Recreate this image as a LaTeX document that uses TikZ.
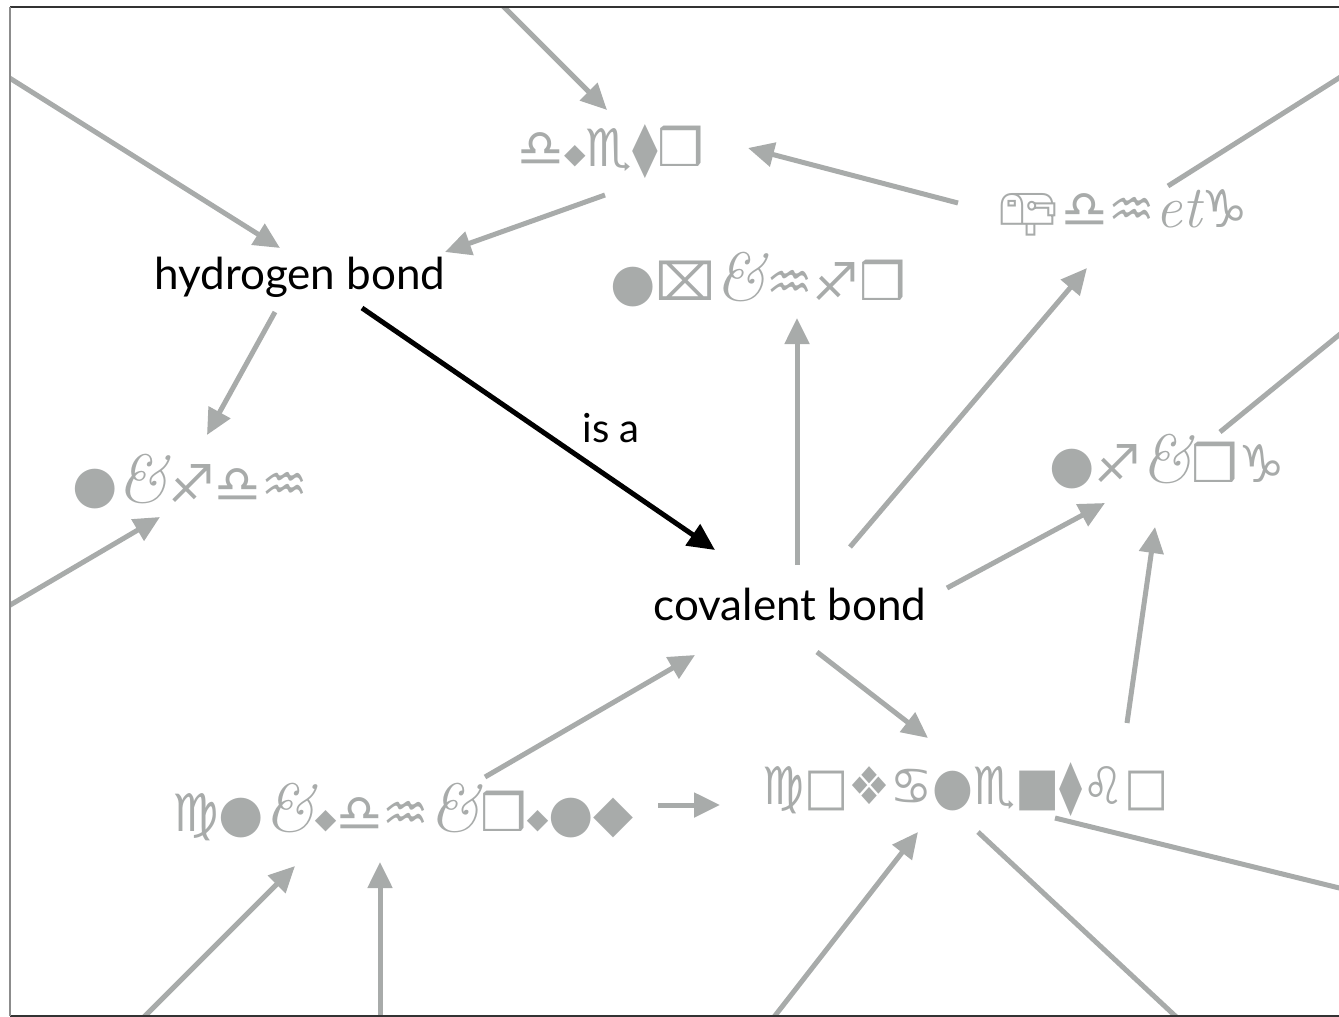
\documentclass[tikz,border=0pt]{standalone}
\usepackage{fontspec}
\setmainfont{Lato}
\newfontfamily\symfont{DejaVu Sans}
\newfontfamily\mailfont{Noto Emoji}
\newfontfamily\ornfont{Latin Modern Roman}
\usetikzlibrary{arrows.meta,positioning}

\definecolor{linkgrey}{RGB}{168,171,170}
\newcommand{\ornamp}{{\ornfont\itshape\scalebox{1.3}{\&}}}
\newcommand{\ornet}{{\ornfont\itshape\scalebox{1.15}{et}}}
\newcommand{\smalldia}{{\fontsize{28}{28}\selectfont\raisebox{0.12em}{◆}}}
\newcommand{\mailbox}{{\mailfont 📪}}

\begin{document}
\begin{tikzpicture}[
    x=1pt,y=-1pt,
    concept/.style={inner sep=0pt,text=black,font=\fontsize{44}{44}\selectfont},
    glyphs/.style={inner sep=0pt,text=linkgrey,font=\symfont\fontsize{52}{52}\selectfont},
    link/.style={draw=linkgrey,line width=5pt,-{Triangle[length=26pt,width=24pt]}},
    isalink/.style={draw=black,line width=5pt,-{Triangle[length=27pt,width=25pt]}}
]
\useasboundingbox (0,0) rectangle (1339,1017);

\node[concept] (hb) at (300,277) {hydrogen bond};
\node[concept] (cov) at (790,604) {covalent bond};
\node[concept,font=\fontsize{40}{40}\selectfont] (isa) at (611,428) {is a};

\node[glyphs] (duet) at (611,152) {♎\smalldia♏⧫❒};
\node[glyphs] (mail) at (1122,213) {\mailbox♎♒\ornet♑};
\node[glyphs] (box) at (758,280) {●⌧\ornamp♒♐❒};
\node[glyphs] (left) at (190,482) {●\ornamp♐♎♒};
\node[glyphs] (right) at (1167,462) {●♐\ornamp❒♑};
\node[glyphs,xscale=0.9] (lower) at (966,790) {♍□❖♋●♏■⧫♌□};
\node[glyphs] (long) at (403,812) {♍●\ornamp\smalldia♎♒\ornamp❒\smalldia●◆};

\coordinate (outtop) at (497,0);
\coordinate (outnw) at (0,72);
\coordinate (outw) at (0,611);
\coordinate (outne) at (1350,71);
\coordinate (oute) at (1350,326);
\coordinate (outse) at (1380,898);
\coordinate (outsw) at (135,1026);
\coordinate (outs) at (380,1030);
\coordinate (outsm) at (767,1026);
\coordinate (outsr) at (1186,1026);

\begin{scope}
\clip (10,7) rectangle (1339,1016);
\draw[link] (outtop) -- ([shift={(-4,-42)}]duet.center);
\draw[link] (outnw) -- ([shift={(-20,-29)}]hb.center);
\draw[link] ([shift={(-6,43)}]duet.center) -- ([shift={(145,-25)}]hb.center);
\draw[link] ([shift={(-164,-10)}]mail.center) -- ([shift={(137,-4)}]duet.center);
\draw[link,-] ([shift={(46,-27)}]mail.center) -- (outne);
\draw[link] ([shift={(-25,35)}]hb.center) -- ([shift={(17,-47)}]left.center);
\draw[link] (outw) -- ([shift={(-30,35)}]left.center);
\draw[link] ([shift={(7,-39)}]cov.center) -- ([shift={(39,38)}]box.center);
\draw[link] ([shift={(60,-57)}]cov.center) -- ([shift={(-35,55)}]mail.center);
\draw[link] ([shift={(157,-16)}]cov.center) -- ([shift={(-62,41)}]right.center);
\draw[link,-] ([shift={(53,-30)}]right.center) -- (oute);
\draw[link] ([shift={(27,48)}]cov.center) -- ([shift={(-38,-52)}]lower.center);
\draw[link] ([shift={(161,-67)}]lower.center) -- ([shift={(-12,65)}]right.center);
\draw[link] ([shift={(82,-35)}]long.center) -- ([shift={(-95,51)}]cov.center);
\draw[link] ([shift={(255,-7)}]long.center) -- ([shift={(-246,15)}]lower.center);
\draw[link] (outsw) -- ([shift={(-108,54)}]long.center);
\draw[link] (outs) -- ([shift={(-23,50)}]long.center);
\draw[link] (outsm) -- ([shift={(-48,42)}]lower.center);
\draw[link,-] ([shift={(12,42)}]lower.center) -- (outsr);
\draw[link,-] ([shift={(89,28)}]lower.center) -- (outse);
\draw[isalink] ([shift={(62,31)}]hb.center) -- ([shift={(-75,-54)}]cov.center);
\end{scope}

\draw[line width=1.5pt,black!80] (1339,7) -- (10,7);
\draw[line width=1.5pt,black!80] (10,1016) -- (1339,1016);
\draw[line width=1.2pt,black!45] (10,7) -- (10,1016);
\end{tikzpicture}
\end{document}
